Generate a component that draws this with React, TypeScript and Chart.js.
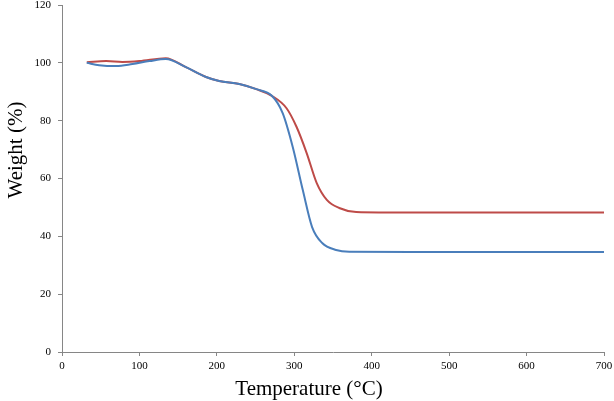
import React, { useEffect, useRef } from "react";
import { Chart, registerables } from "chart.js";

Chart.register(...registerables);

const blueTemps = [32, 48, 70, 91, 113, 134, 160, 186, 203, 229, 251, 271, 285, 298, 311, 323, 336, 354, 371, 450, 550, 700];
const blueWeights = [100, 99.2, 98.9, 99.6, 100.6, 101.3, 98.5, 95.1, 93.7, 92.7, 90.9, 88.6, 82.6, 70.9, 56, 43.2, 37.7, 35.3, 34.7, 34.6, 34.6, 34.6];

const redTemps = [32, 57, 78, 100, 134, 160, 186, 203, 229, 251, 271, 290, 303, 316, 329, 342, 358, 380, 450, 550, 700];
const redWeights = [100.2, 100.6, 100.3, 100.6, 101.6, 98.5, 95.1, 93.7, 92.7, 90.9, 88.6, 84.3, 77.8, 68.8, 58.4, 52.6, 49.8, 48.4, 48.2, 48.2, 48.2];

const xTitle = "Temperature (°C)";
const yTitle = "Weight (%)";

const titlePlugin = {
  id: "axisTitles",
  afterDraw(chart: any) {
    const ctx = chart.ctx;
    ctx.save();
    ctx.fillStyle = "#000";
    ctx.font = '21px "Liberation Serif"';
    ctx.textAlign = "center";
    ctx.textBaseline = "alphabetic";
    ctx.fillText(xTitle, 309, 395);
    ctx.translate(22, 150);
    ctx.rotate(-Math.PI / 2);
    ctx.fillText(yTitle, 0, 0);
    ctx.restore();
  },
};

const zeroPad = (s: any) => {
  s.paddingTop = 0;
  s.paddingBottom = 0;
  s.paddingLeft = 0;
  s.paddingRight = 0;
};

export default function App() {
  const ref = useRef<HTMLCanvasElement | null>(null);
  useEffect(() => {
    if (!ref.current) return;
    const toPts = (xs: number[], ys: number[]) => xs.map((x, i) => ({ x, y: ys[i] }));
    const tickFont = { family: '"Liberation Serif"', size: 11 };
    const chart = new Chart(ref.current, {
      type: "line",
      data: {
        datasets: [
          {
            data: toPts(blueTemps, blueWeights),
            borderColor: "#4A7EBB",
            borderWidth: 2,
            pointRadius: 0,
            cubicInterpolationMode: "monotone",
            fill: false,
          },
          {
            data: toPts(redTemps, redWeights),
            borderColor: "#BE4B48",
            borderWidth: 2,
            pointRadius: 0,
            cubicInterpolationMode: "monotone",
            fill: false,
          },
        ],
      },
      options: {
        responsive: false,
        animation: false,
        devicePixelRatio: 1,
        layout: { padding: { left: 0, top: 5, right: 10, bottom: 0 } },
        plugins: { legend: { display: false }, tooltip: { enabled: false } },
        scales: {
          x: {
            type: "linear",
            min: 0,
            max: 700,
            ticks: { stepSize: 100, font: tickFont, color: "#000", padding: 4, maxRotation: 0 },
            grid: { drawOnChartArea: false, tickLength: 4, color: "#868686" },
            border: { color: "#868686", width: 1 },
            afterFit: (s: any) => {
              s.height = 49;
              zeroPad(s);
            },
          },
          y: {
            type: "linear",
            min: 0,
            max: 120,
            ticks: { stepSize: 20, font: tickFont, color: "#000", padding: 7 },
            grid: { drawOnChartArea: false, tickLength: 4, color: "#868686" },
            border: { color: "#868686", width: 1 },
            afterFit: (s: any) => {
              s.width = 62;
              zeroPad(s);
            },
          },
        },
      } as any,
      plugins: [titlePlugin],
    });
    return () => chart.destroy();
  }, []);
  return (
    <div style={{ position: "fixed", left: 0, top: 0, width: 614, height: 401, background: "#fff" }}>
      <canvas ref={ref} width={614} height={401} style={{ width: 614, height: 401 }} />
    </div>
  );
}
